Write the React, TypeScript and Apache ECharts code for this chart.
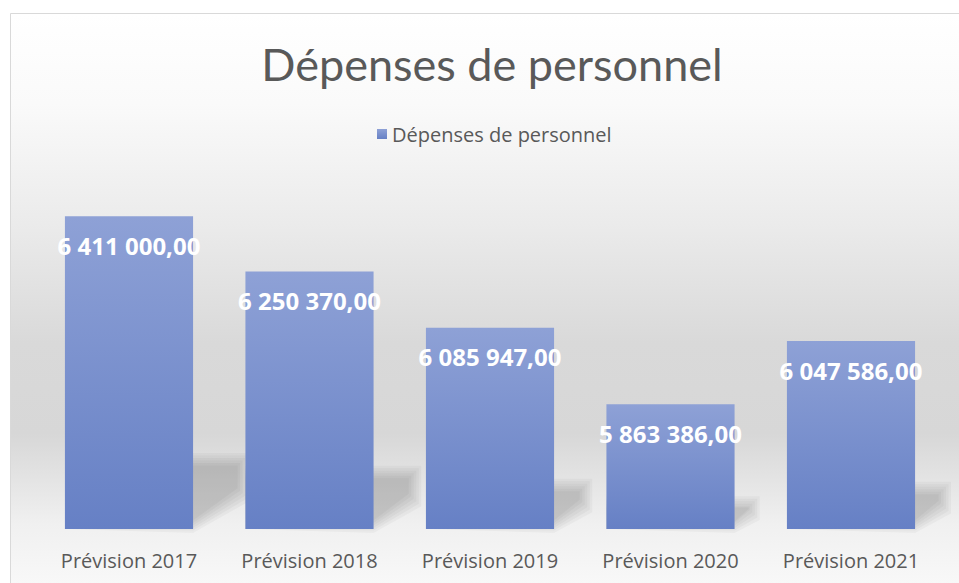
import React, { useEffect, useRef } from "react";
import * as echarts from "echarts";

const categories = ["Prévision 2017", "Prévision 2018", "Prévision 2019", "Prévision 2020", "Prévision 2021"];
const values = [6411000, 6250370, 6085947, 5863386, 6047586];
const seriesName = "Dépenses de personnel";
const titleText = "Dépenses de personnel";
const axisMin = 5500000;
const axisMax = 6600000;

function formatFr(v: number): string {
  const fixed = v.toFixed(2);
  const [intPart, dec] = fixed.split(".");
  const withSpaces = intPart.replace(/\B(?=(\d{3})+(?!\d))/g, " ");
  return withSpaces + "," + dec;
}

export default function App() {
  const ref = useRef<HTMLDivElement>(null);
  useEffect(() => {
    if (!ref.current) return;
    const chart = echarts.init(ref.current, undefined, { renderer: "svg" });
    const barColor = new echarts.graphic.LinearGradient(0, 0, 0, 1, [
      { offset: 0, color: "#8ea1d6" },
      { offset: 1, color: "#6680c5" },
    ]);
    chart.setOption({
      animation: false,
      title: {
        text: titleText,
        left: 487,
        textAlign: "center",
        top: 36,
        textStyle: { fontFamily: "Lato", fontSize: 45, fontWeight: "normal", color: "#595959" },
      },
      legend: {
        data: [seriesName],
        left: 372,
        top: 119,
        icon: "rect",
        itemWidth: 10,
        itemHeight: 10,
        itemGap: 10,
        textStyle: { fontFamily: "Open Sans", fontSize: 20, color: "#595959" },
      },
      graphic: [
        {
          type: "rect",
          z: -100,
          silent: true,
          shape: { x: 10.5, y: 13.5, width: 980, height: 600 },
          style: {
            fill: new echarts.graphic.LinearGradient(0, 0, 0, 1, [
              { offset: 0, color: "#ffffff" },
              { offset: 0.15, color: "#fafafa" },
              { offset: 0.35, color: "#ebebeb" },
              { offset: 0.55, color: "#d9d9d9" },
              { offset: 0.7, color: "#d7d7d7" },
              { offset: 0.85, color: "#f0f0f0" },
              { offset: 1, color: "#fcfcfc" },
            ]),
            stroke: "#d9d9d9",
            lineWidth: 1,
          },
        },
      ],
      grid: { left: 38.75, right: 17.75, top: 151.4, bottom: 54 },
      xAxis: {
        type: "category",
        data: categories,
        axisLine: { show: false },
        axisTick: { show: false },
        axisLabel: { fontFamily: "Open Sans", fontSize: 20, color: "#595959", margin: 21 },
      },
      yAxis: {
        type: "value",
        min: axisMin,
        max: axisMax,
        show: false,
        splitLine: { show: false },
      },
      series: [
        {
          type: "custom",
          name: "shadow",
          z: 1,
          silent: true,
          data: values.map((v, i) => [i, v]),
          renderItem: (params: any, api: any) => {
            const idx = api.value(0);
            const v = api.value(1);
            const top = api.coord([idx, v]);
            const base = api.coord([idx, axisMin]);
            const bw = api.size([1, 0])[0] * 0.71;
            const h = base[1] - top[1];
            const dh = 0.23 * h;
            const dx = 0.17 * h;
            const xL = base[0] - bw / 2;
            const xR = base[0] + bw / 2;
            const yB = base[1];
            const children: any[] = [];
            const steps = [-4, -1.5, 1, 3.5, 6, 8.5];
            for (const s0 of steps) {
              const s = Math.min(s0, dh * 0.25);
              children.push({
                type: "polygon",
                shape: {
                  points: [
                    [xL, yB],
                    [xL, yB - dh + s],
                    [xR + dx - s, yB - dh + s],
                    [xR + dx - s, yB - 0.45 * dh - s],
                    [xR, yB - s],
                  ],
                },
                style: { fill: "rgba(0,0,0,0.032)" },
              });
            }
            return { type: "group", children };
          },
        },
        {
          type: "bar",
          name: seriesName,
          z: 3,
          data: values,
          barWidth: "71%",
          itemStyle: { color: barColor },
          label: {
            show: true,
            position: "insideTop",
            distance: 17,
            formatter: (p: any) => formatFr(p.value),
            fontFamily: "Open Sans",
            fontWeight: "bold",
            fontSize: 24,
            color: "#ffffff",
          },
        },
      ],
    });
    return () => chart.dispose();
  }, []);
  return (
    <div
      ref={ref}
      style={{ position: "absolute", left: 0, top: 0, width: 959, height: 583 }}
    />
  );
}
